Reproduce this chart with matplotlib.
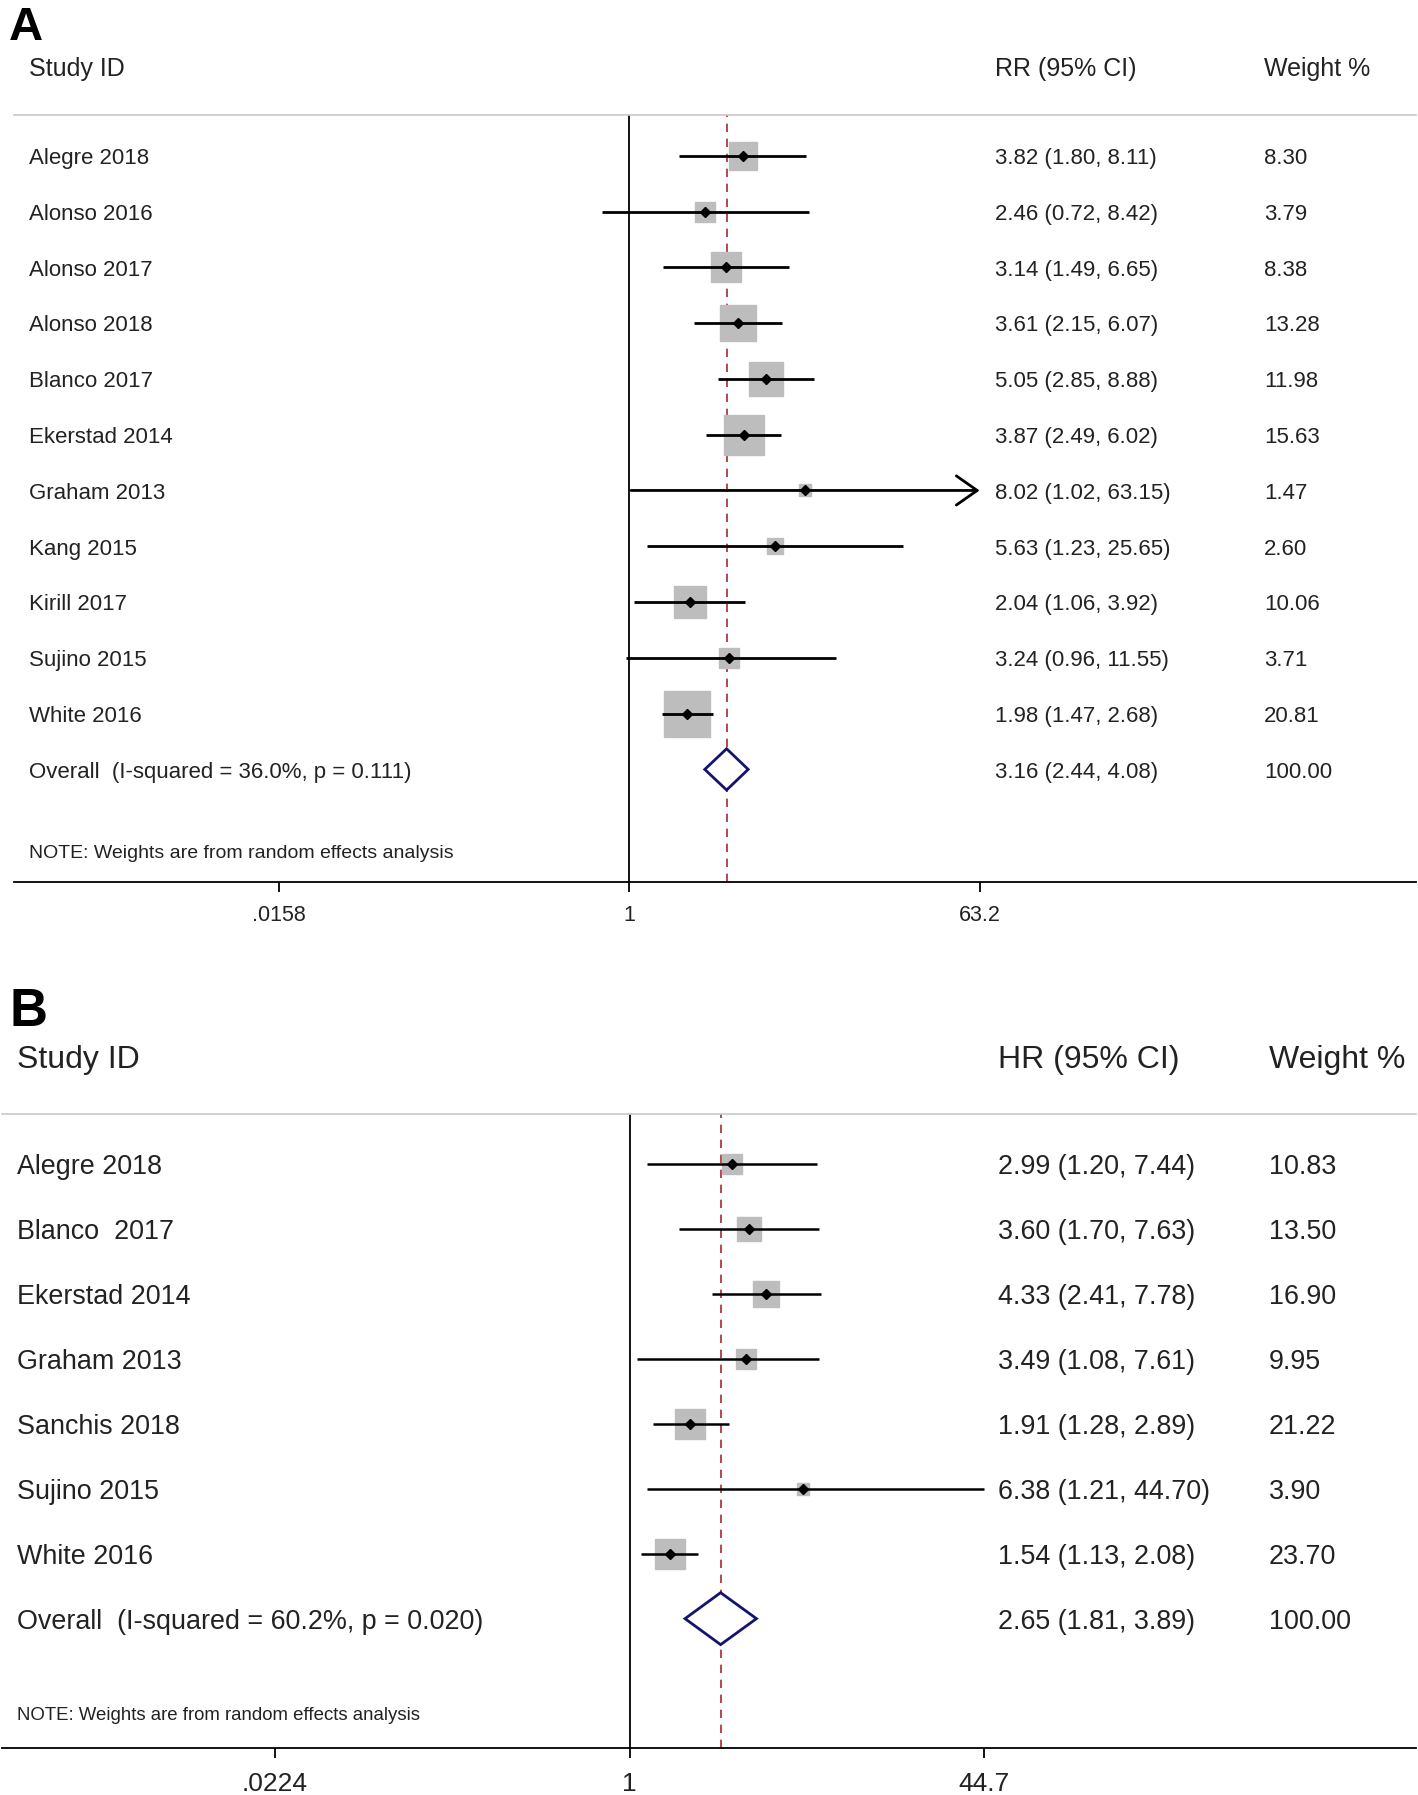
import numpy as np
import matplotlib
matplotlib.use('Agg')
import matplotlib.pyplot as plt
from matplotlib.transforms import blended_transform_factory

plt.rcParams['font.family'] = ['Liberation Sans', 'DejaVu Sans']

# Panel A data (RR)
studies_a = ['Alegre 2018', 'Alonso 2016', 'Alonso 2017', 'Alonso 2018', 'Blanco 2017',
             'Ekerstad 2014', 'Graham 2013', 'Kang 2015', 'Kirill 2017', 'Sujino 2015', 'White 2016']
est_a = [3.82, 2.46, 3.14, 3.61, 5.05, 3.87, 8.02, 5.63, 2.04, 3.24, 1.98]
lo_a = [1.80, 0.72, 1.49, 2.15, 2.85, 2.49, 1.02, 1.23, 1.06, 0.96, 1.47]
hi_a = [8.11, 8.42, 6.65, 6.07, 8.88, 6.02, 63.15, 25.65, 3.92, 11.55, 2.68]
w_a = [8.30, 3.79, 8.38, 13.28, 11.98, 15.63, 1.47, 2.60, 10.06, 3.71, 20.81]
overall_a = [3.16, 2.44, 4.08]
het_a = 'Overall  (I-squared = 36.0%, p = 0.111)'
ticks_a = [0.0158, 1, 63.2]
ticklabels_a = ['.0158', '1', '63.2']
arrows_a = ['Graham 2013']

# Panel B data (HR)
studies_b = ['Alegre 2018', 'Blanco  2017', 'Ekerstad 2014', 'Graham 2013', 'Sanchis 2018',
             'Sujino 2015', 'White 2016']
est_b = [2.99, 3.60, 4.33, 3.49, 1.91, 6.38, 1.54]
lo_b = [1.20, 1.70, 2.41, 1.08, 1.28, 1.21, 1.13]
hi_b = [7.44, 7.63, 7.78, 7.61, 2.89, 44.70, 2.08]
w_b = [10.83, 13.50, 16.90, 9.95, 21.22, 3.90, 23.70]
overall_b = [2.65, 1.81, 3.89]
het_b = 'Overall  (I-squared = 60.2%, p = 0.020)'
ticks_b = [0.0224, 1, 44.7]
ticklabels_b = ['.0224', '1', '44.7']
arrows_b = []

txt = '#222222'
note = 'NOTE: Weights are from random effects analysis'


def forest(ax, studies, est, lo, hi, w, overall, het, ticks, ticklabels, arrows,
           xl, yl, measure, fs, hfs, nfs, tfs, box_k, dia_h, cols, lw):
    n = len(studies)
    tr = blended_transform_factory(ax.transAxes, ax.transData)
    ax.set_xscale('log')
    ax.set_xlim(np.exp(xl[0]), np.exp(xl[1]))
    ax.set_ylim(yl)
    dy = 0.05  # text sits a touch lower than the marks

    ax.axvline(1, color='black', lw=1.3, zorder=1)
    ax.axvline(overall[0], color='#a8282e', lw=1.2, dashes=(5, 4), zorder=1)

    for i in range(n):
        ax.plot(est[i], i, marker='s', ms=box_k * np.sqrt(w[i]), color='#bdbdbd',
                mec='#bdbdbd', zorder=2)
        if studies[i] in arrows:
            ax.annotate('', xy=(ticks[-1], i), xytext=(lo[i], i),
                        arrowprops=dict(arrowstyle='->,head_length=0.5,head_width=0.35',
                                        lw=lw, color='black', mutation_scale=30,
                                        shrinkA=0, shrinkB=0), zorder=3)
        else:
            ax.plot([lo[i], hi[i]], [i, i], color='black', lw=lw, zorder=3,
                    solid_capstyle='butt')
        ax.plot(est[i], i, marker='D', ms=5, color='black', zorder=4)
        ax.text(cols[0], i + dy, studies[i], transform=tr, fontsize=fs, color=txt, va='center')
        ax.text(cols[1], i + dy, f'{est[i]:.2f} ({lo[i]:.2f}, {hi[i]:.2f})', transform=tr,
                fontsize=fs, color=txt, va='center')
        ax.text(cols[2], i + dy, f'{w[i]:.2f}', transform=tr, fontsize=fs, color=txt,
                va='center')

    e, l, h = overall
    ax.fill([l, e, h, e, l], [n, n - dia_h, n, n + dia_h, n], facecolor='white',
            edgecolor='#141470', lw=2.0, zorder=4)
    ax.text(cols[0], n + dy, het, transform=tr, fontsize=fs, color=txt, va='center')
    ax.text(cols[1], n + dy, f'{e:.2f} ({l:.2f}, {h:.2f})', transform=tr, fontsize=fs,
            color=txt, va='center')
    ax.text(cols[2], n + dy, '100.00', transform=tr, fontsize=fs, color=txt, va='center')

    # header
    hy = yl[1] - 0.82
    ax.text(cols[0], hy, 'Study ID', transform=tr, fontsize=hfs, color=txt, va='center')
    ax.text(cols[1], hy, measure + ' (95% CI)', transform=tr, fontsize=hfs, color=txt,
            va='center')
    ax.text(cols[2], hy, 'Weight %', transform=tr, fontsize=hfs, color=txt, va='center')
    ax.text(cols[0], yl[0] - 0.5, note, transform=tr, fontsize=nfs, color=txt, va='center')

    for s in ['left', 'right']:
        ax.spines[s].set_visible(False)
    ax.spines['top'].set_color('#c8c8c8')
    ax.spines['top'].set_linewidth(1.2)
    ax.spines['bottom'].set_linewidth(1.3)
    ax.set_yticks([])
    ax.set_xticks(ticks)
    ax.set_xticklabels(ticklabels)
    ax.minorticks_off()
    ax.tick_params(axis='x', length=7, width=1.3, pad=10, labelsize=tfs, labelcolor=txt)


fig = plt.figure(figsize=(14.18, 17.95), dpi=100)
ax_a = fig.add_axes([0.00969, 0.5089, 0.9887, 0.4273])
ax_b = fig.add_axes([0.0016, 0.02615, 0.99679, 0.3534])

forest(ax_a, studies_a, est_a, lo_a, hi_a, w_a, overall_a, het_a, ticks_a, ticklabels_a,
       arrows_a, xl=(-7.29, 9.31), yl=(13.01, -0.739), measure='RR',
       fs=16, hfs=18, nfs=14, tfs=15.5, box_k=7.23, dia_h=0.37,
       cols=(0.0106, 0.700, 0.892), lw=2.0)

forest(ax_b, studies_b, est_b, lo_b, hi_b, w_b, overall_b, het_b, ticks_b, ticklabels_b,
       arrows_b, xl=(-6.72, 8.42), yl=(8.993, -0.776), measure='HR',
       fs=19.4, hfs=23, nfs=13.4, tfs=19, box_k=4.58, dia_h=0.40,
       cols=(0.0105, 0.7045, 0.896), lw=1.8)

fig.text(0.0065, 0.9968, 'A', fontsize=34, fontweight='bold', va='top',
         family=['Liberation Sans Narrow', 'Liberation Sans'])
fig.text(0.0065, 0.4503, 'B', fontsize=38, fontweight='bold', va='top',
         family=['Liberation Sans Narrow', 'Liberation Sans'])

fig.savefig('out.png', dpi=100)
